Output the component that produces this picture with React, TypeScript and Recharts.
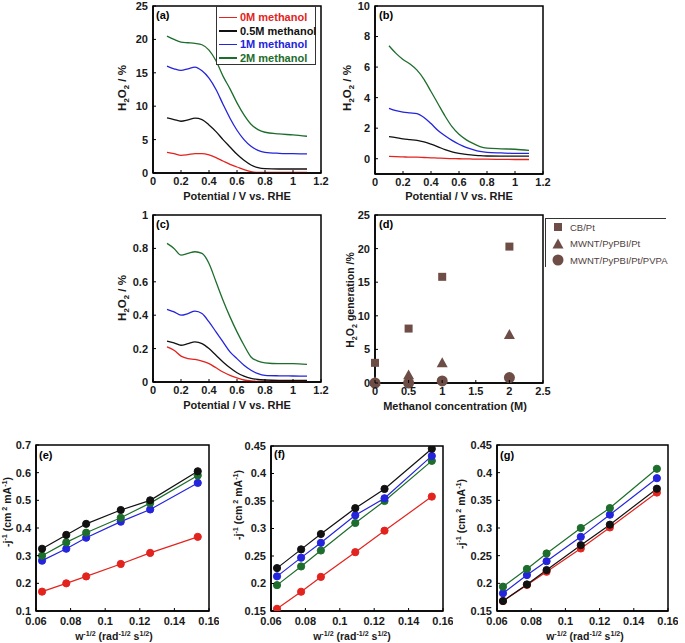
import React from 'react';
import { LineChart, Line, XAxis, YAxis, ReferenceArea, ScatterChart, Scatter } from 'recharts';

const FONT = '"Liberation Sans", Arial, sans-serif';
const RED = '#e3231e';
const BLACK = '#111111';
const BLUE = '#2424dc';
const GREEN = '#1d6d2c';
const BROWN = '#6e4d47';

// ---------- panels (a)-(c): H2O2 % vs potential ----------
const potential = [0.1, 0.15, 0.2, 0.25, 0.3, 0.35, 0.4, 0.45, 0.5, 0.55, 0.6, 0.65, 0.7, 0.75, 0.8, 0.9, 1.0, 1.1];
const methanolLabels = ['0M methanol', '0.5M methanol', '1M methanol', '2M methanol'];
const methanolColors = [RED, BLACK, BLUE, GREEN];

const aRed = [3.1, 2.9, 2.65, 2.75, 2.9, 2.9, 2.7, 2.3, 1.8, 1.3, 0.9, 0.5, 0.2, 0.1, 0.1, 0.1, 0.1, 0.1];
const aBlack = [8.25, 8.0, 7.75, 7.95, 8.2, 8.0, 7.2, 6.2, 5.0, 3.9, 2.8, 1.9, 1.2, 0.8, 0.65, 0.6, 0.6, 0.6];
const aBlue = [16.0, 15.6, 15.35, 15.6, 15.85, 15.3, 14.2, 12.5, 10.3, 8.2, 6.4, 5.0, 4.0, 3.4, 3.1, 2.95, 2.9, 2.85];
const aGreen = [20.5, 20.0, 19.6, 19.5, 19.4, 19.2, 18.4, 16.8, 14.5, 12.6, 10.5, 8.7, 7.3, 6.5, 6.1, 5.85, 5.7, 5.5];

const bRed = [0.15, 0.14, 0.12, 0.1, 0.1, 0.08, 0.06, 0.04, 0.02, 0.01, 0.0, -0.01, -0.02, -0.03, -0.03, -0.04, -0.05, -0.05];
const bBlack = [1.45, 1.38, 1.3, 1.25, 1.2, 1.1, 0.95, 0.78, 0.6, 0.45, 0.35, 0.28, 0.24, 0.2, 0.18, 0.17, 0.17, 0.17];
const bBlue = [3.3, 3.15, 3.05, 3.0, 2.95, 2.7, 2.3, 1.85, 1.5, 1.2, 0.95, 0.75, 0.6, 0.48, 0.42, 0.38, 0.35, 0.35];
const bGreen = [7.4, 6.9, 6.5, 6.2, 5.8, 5.2, 4.4, 3.6, 2.8, 2.1, 1.6, 1.25, 1.0, 0.8, 0.7, 0.65, 0.62, 0.55];

const cRed = [0.21, 0.19, 0.155, 0.14, 0.135, 0.125, 0.11, 0.085, 0.06, 0.04, 0.025, 0.012, 0.006, 0.004, 0.003, 0.003, 0.003, 0.003];
const cBlack = [0.245, 0.235, 0.22, 0.23, 0.24, 0.23, 0.2, 0.16, 0.12, 0.085, 0.055, 0.035, 0.022, 0.015, 0.012, 0.01, 0.01, 0.01];
const cBlue = [0.435, 0.42, 0.4, 0.41, 0.425, 0.41, 0.36, 0.3, 0.24, 0.18, 0.14, 0.1, 0.07, 0.05, 0.04, 0.037, 0.036, 0.035];
const cGreen = [0.83, 0.8, 0.76, 0.77, 0.78, 0.77, 0.71, 0.6, 0.49, 0.39, 0.3, 0.22, 0.15, 0.125, 0.115, 0.11, 0.11, 0.105];

const potentialTicks = [0, 0.2, 0.4, 0.6, 0.8, 1, 1.2];
const aTicks = [0, 5, 10, 15, 20, 25];
const bTicks = [0, 2, 4, 6, 8, 10];
const cTicks = [0, 0.2, 0.4, 0.6, 0.8, 1];

// ---------- panel (d) ----------
const dLabels = ['CB/Pt', 'MWNT/PyPBI/Pt', 'MWNT/PyPBI/Pt/PVPA'];
const dConc = [0, 0.5, 1, 2];
const dCBPt = [3.0, 8.1, 15.8, 20.3];
const dPyPBI = [0.2, 1.2, 3.0, 7.2];
const dPVPA = [0.0, 0.0, 0.3, 0.8];
const dXTicks = [0, 0.5, 1, 1.5, 2, 2.5];
const dYTicks = [0, 5, 10, 15, 20, 25];

// ---------- panels (e)-(g): Koutecky-Levich ----------
const wInv = [0.0635, 0.0775, 0.089, 0.109, 0.126, 0.1535];
const eRed = [0.17, 0.2, 0.225, 0.27, 0.31, 0.368];
const eBlack = [0.325, 0.375, 0.415, 0.465, 0.5, 0.605];
const eBlue = [0.282, 0.325, 0.365, 0.423, 0.467, 0.563];
const eGreen = [0.3, 0.348, 0.383, 0.437, 0.49, 0.59];

const fRed = [0.154, 0.185, 0.212, 0.257, 0.296, 0.358];
const fBlack = [0.228, 0.262, 0.29, 0.337, 0.372, 0.445];
const fBlue = [0.213, 0.247, 0.274, 0.324, 0.355, 0.432];
const fGreen = [0.197, 0.231, 0.26, 0.31, 0.35, 0.423];

const gRed = [0.168, 0.197, 0.221, 0.263, 0.301, 0.364];
const gBlack = [0.168, 0.198, 0.224, 0.269, 0.306, 0.371];
const gBlue = [0.182, 0.215, 0.24, 0.284, 0.324, 0.39];
const gGreen = [0.194, 0.226, 0.254, 0.3, 0.336, 0.407];

const klXTicks = [0.06, 0.08, 0.1, 0.12, 0.14, 0.16];
const eTicks = [0.1, 0.2, 0.3, 0.4, 0.5, 0.6, 0.7];
const fgTicks = [0.15, 0.2, 0.25, 0.3, 0.35, 0.4, 0.45];

const ML = 60, MT = 10, MR = 10, MB = 40;
const TMX = 4, TMY = 5;

type Box = { x: number; y: number; w: number; h: number };
type Series = { color: string; values: number[] };

const tickText = { fontSize: 11, fontWeight: 'bold' as const, fill: '#1a1a1a', fontFamily: FONT };
const axisLine = { stroke: '#000', strokeWidth: 1.5 };

function makeXTick(extra: number) {
  return function XTick(p: any) {
    const { x, y, payload } = p;
    const ay = y - TMX;
    return (
      <g>
        <line x1={x} x2={x} y1={ay} y2={ay - 3} stroke="#000" strokeWidth={1} />
        <text x={x} y={y + extra} dy="0.71em" textAnchor="middle" {...tickText}>{String(payload.value)}</text>
      </g>
    );
  };
}
const XTick = makeXTick(0);
const XTickLow = makeXTick(2.5);

function YTick(p: any) {
  const { x, y, payload } = p;
  const ax = x + TMY;
  return (
    <g>
      <line x1={ax} x2={ax + 3} y1={y} y2={y} stroke="#000" strokeWidth={1} />
      <text x={x} y={y} dy="0.355em" textAnchor="end" {...tickText}>{String(payload.value)}</text>
    </g>
  );
}

function LinePanel(props: {
  box: Box; xs: number[]; series: Series[]; xDomain: number[]; xTicks: number[];
  yDomain: number[]; yTicks: number[]; markers?: boolean; curve?: 'monotone' | 'linear';
}) {
  const { box, xs, series, xDomain, xTicks, yDomain, yTicks, markers, curve } = props;
  const data = xs.map((x, i) => {
    const row: Record<string, number> = { x };
    series.forEach((s, j) => { row['s' + j] = s.values[i]; });
    return row;
  });
  return (
    <div style={{ position: 'absolute', left: box.x - ML, top: box.y - MT }}>
      <LineChart width={box.w + ML + MR} height={box.h + MT + MB} data={data}
        margin={{ top: MT, right: MR, left: 0, bottom: 0 }}>
        <XAxis dataKey="x" type="number" domain={xDomain} ticks={xTicks} height={MB}
          allowDataOverflow interval={0} tick={markers ? XTickLow : XTick} tickSize={0} tickMargin={TMX}
          axisLine={axisLine} tickLine={false} />
        <YAxis type="number" domain={yDomain} ticks={yTicks} width={ML} allowDataOverflow
          interval={0} tick={YTick} tickSize={0} tickMargin={TMY}
          axisLine={axisLine} tickLine={false} />
        <ReferenceArea x1={xDomain[0]} x2={xDomain[1]} y1={yDomain[0]} y2={yDomain[1]}
          fill="none" stroke="#000" strokeWidth={1.5} fillOpacity={0} />
        {series.map((s, j) => (
          <Line key={j} dataKey={'s' + j} type={curve || 'monotone'} stroke={s.color}
            strokeWidth={markers ? 1.2 : 1.3} isAnimationActive={false}
            dot={markers ? { r: 3.6, fill: s.color, stroke: s.color, strokeWidth: 1 } : false}
            activeDot={false} />
        ))}
      </LineChart>
    </div>
  );
}

function Square(p: any) {
  return <rect x={p.cx - 4} y={p.cy - 4} width={8} height={8} fill={BROWN} />;
}
function Tri(p: any) {
  const s = 5.5;
  return <polygon points={`${p.cx},${p.cy - s} ${p.cx + s},${p.cy + s * 0.8} ${p.cx - s},${p.cy + s * 0.8}`} fill={BROWN} />;
}
function Circ(p: any) {
  return <circle cx={p.cx} cy={p.cy} r={5.5} fill={BROWN} />;
}

function ScatterPanel({ box }: { box: Box }) {
  const mk = (ys: number[]) => dConc.map((x, i) => ({ x, y: ys[i] }));
  return (
    <div style={{ position: 'absolute', left: box.x - ML, top: box.y - MT }}>
      <ScatterChart width={box.w + ML + MR} height={box.h + MT + MB}
        margin={{ top: MT, right: MR, left: 0, bottom: 0 }}>
        <XAxis dataKey="x" type="number" domain={[0, 2.5]} ticks={dXTicks} height={MB}
          interval={0} tick={XTick} tickSize={0} tickMargin={TMX}
          axisLine={axisLine} tickLine={false} />
        <YAxis dataKey="y" type="number" domain={[0, 25]} ticks={dYTicks} width={ML}
          interval={0} tick={YTick} tickSize={0} tickMargin={TMY}
          axisLine={axisLine} tickLine={false} />
        <ReferenceArea x1={0} x2={2.5} y1={0} y2={25} fill="none" stroke="#000" strokeWidth={1.5} fillOpacity={0} />
        <Scatter name={dLabels[0]} data={mk(dCBPt)} shape={Square} isAnimationActive={false} />
        <Scatter name={dLabels[1]} data={mk(dPyPBI)} shape={Tri} isAnimationActive={false} />
        <Scatter name={dLabels[2]} data={mk(dPVPA)} shape={Circ} isAnimationActive={false} />
      </ScatterChart>
    </div>
  );
}

type Part = [string, number];
function Rich({ x, y, parts, fs, rotate }: { x: number; y: number; parts: Part[]; fs: number; rotate?: boolean }) {
  let shift = 0;
  const spans = parts.map(([t, k], i) => {
    const target = k === 1 ? -fs * 0.38 : k === -1 ? fs * 0.3 : 0;
    const dy = target - shift;
    shift = target;
    return <tspan key={i} dy={dy} fontSize={k ? fs * 0.68 : fs}>{t}</tspan>;
  });
  return (
    <text x={x} y={y} textAnchor="middle" fontSize={fs} fontWeight="bold" fontFamily={FONT} fill="#1a1a1a"
      transform={rotate ? `rotate(-90 ${x} ${y})` : undefined}>{spans}</text>
  );
}

const A: Box = { x: 153, y: 6, w: 168, h: 167 };
const B: Box = { x: 375, y: 6, w: 168, h: 168 };
const C: Box = { x: 153, y: 215, w: 168, h: 167 };
const D: Box = { x: 375, y: 215, w: 168, h: 168 };
const E: Box = { x: 36, y: 445, w: 173, h: 166 };
const F: Box = { x: 271, y: 446, w: 172, h: 165 };
const G: Box = { x: 497, y: 445, w: 171, h: 166 };

const h2o2: Part[] = [['H', 0], ['2', -1], ['O', 0], ['2', -1], [' / %', 0]];
const h2o2gen: Part[] = [['H', 0], ['2', -1], ['O', 0], ['2', -1], [' generation /%', 0]];
const jLabel: Part[] = [['-j', 0], ['-1', 1], [' (cm', 0], [' 2', 1], [' mA', 0], ['-1', 1], [')', 0]];
const wLabel: Part[] = [['w', 0], ['-1/2', 1], [' (rad', 0], ['-1/2', 1], [' s', 0], ['1/2', 1], [')', 0]];

export default function App() {
  const ser = (vals: number[][], cols: string[] = methanolColors) => vals.map((v, i) => ({ color: cols[i], values: v }));
  return (
    <div style={{ position: 'absolute', left: 0, top: 0, width: 685, height: 643, background: '#fff', fontFamily: FONT }}>
      <LinePanel box={A} xs={potential} series={ser([aRed, aBlack, aBlue, aGreen])}
        xDomain={[0, 1.2]} xTicks={potentialTicks} yDomain={[0, 25]} yTicks={aTicks} />
      <LinePanel box={B} xs={potential} series={ser([bRed, bBlack, bBlue, bGreen])}
        xDomain={[0, 1.2]} xTicks={potentialTicks} yDomain={[-1, 10]} yTicks={bTicks} />
      <LinePanel box={C} xs={potential} series={ser([cRed, cBlack, cBlue, cGreen])}
        xDomain={[0, 1.2]} xTicks={potentialTicks} yDomain={[0, 1]} yTicks={cTicks} />
      <ScatterPanel box={D} />
      <LinePanel box={E} xs={wInv} series={ser([eRed, eBlue, eGreen, eBlack], [RED, BLUE, GREEN, BLACK])} markers curve="linear"
        xDomain={[0.06, 0.16]} xTicks={klXTicks} yDomain={[0.1, 0.7]} yTicks={eTicks} />
      <LinePanel box={F} xs={wInv} series={ser([fRed, fGreen, fBlue, fBlack], [RED, GREEN, BLUE, BLACK])} markers curve="linear"
        xDomain={[0.06, 0.16]} xTicks={klXTicks} yDomain={[0.15, 0.45]} yTicks={fgTicks} />
      <LinePanel box={G} xs={wInv} series={ser([gRed, gBlack, gBlue, gGreen])} markers curve="linear"
        xDomain={[0.06, 0.16]} xTicks={klXTicks} yDomain={[0.15, 0.45]} yTicks={fgTicks} />

      {/* legend (a) */}
      <div style={{ position: 'absolute', left: 216, top: 6, width: 100, height: 59, border: '1px solid #333', background: '#fff', boxSizing: 'border-box' }}>
        {methanolLabels.map((l, i) => (
          <div key={l} style={{ position: 'absolute', left: 2, top: 4 + i * 13.5, height: 13, display: 'flex', alignItems: 'center' }}>
            <div style={{ width: 18, height: 1.5, background: methanolColors[i], marginRight: 3 }} />
            <span style={{ color: methanolColors[i], fontSize: 11, fontWeight: 'bold', whiteSpace: 'nowrap', lineHeight: '13px' }}>{l}</span>
          </div>
        ))}
      </div>

      {/* legend (d) */}
      <div style={{ position: 'absolute', left: 545, top: 218, width: 120, height: 48, borderTop: '1px solid #333', borderLeft: '1px solid #333', background: '#fff' }}>
        {dLabels.map((l, i) => (
          <div key={l} style={{ position: 'absolute', left: 5, top: 1 + i * 16.5, height: 14, display: 'flex', alignItems: 'center' }}>
            <svg width={14} height={14} style={{ marginRight: 5 }}>
              {i === 0 && <rect x={3} y={3} width={8} height={8} fill={BROWN} />}
              {i === 1 && <polygon points="7,1.5 12.5,11.5 1.5,11.5" fill={BROWN} />}
              {i === 2 && <circle cx={7} cy={7} r={5.5} fill={BROWN} />}
            </svg>
            <span style={{ color: '#4f4040', fontSize: 9.5, whiteSpace: 'nowrap' }}>{l}</span>
          </div>
        ))}
      </div>

      <svg width={685} height={643} style={{ position: 'absolute', left: 0, top: 0, pointerEvents: 'none' }}>
        {/* panel letters */}
        <text x={156} y={19} fontSize={11} fontWeight="bold" fontFamily={FONT}>(a)</text>
        <text x={379} y={19} fontSize={11} fontWeight="bold" fontFamily={FONT}>(b)</text>
        <text x={156} y={228} fontSize={11} fontWeight="bold" fontFamily={FONT}>(c)</text>
        <text x={379} y={228} fontSize={11} fontWeight="bold" fontFamily={FONT}>(d)</text>
        <text x={39} y={459} fontSize={11} fontWeight="bold" fontFamily={FONT}>(e)</text>
        <text x={274} y={458} fontSize={11} fontWeight="bold" fontFamily={FONT}>(f)</text>
        <text x={500} y={459} fontSize={11} fontWeight="bold" fontFamily={FONT}>(g)</text>

        {/* x titles */}
        <Rich x={237} y={200} fs={11} parts={[['Potential / V vs. RHE', 0]]} />
        <Rich x={459} y={200} fs={11} parts={[['Potential / V vs. RHE', 0]]} />
        <Rich x={237} y={409} fs={11} parts={[['Potential / V vs. RHE', 0]]} />
        <Rich x={455} y={410} fs={11} parts={[['Methanol concentration (M)', 0]]} />
        <Rich x={114} y={640} fs={10.5} parts={wLabel} />
        <Rich x={352} y={640} fs={10.5} parts={wLabel} />
        <Rich x={585} y={640} fs={10.5} parts={wLabel} />

        {/* y titles */}
        <Rich x={126} y={88} fs={11.5} parts={h2o2} rotate />
        <Rich x={351} y={88} fs={11.5} parts={h2o2} rotate />
        <Rich x={126} y={298} fs={11.5} parts={h2o2} rotate />
        <Rich x={354} y={300} fs={10.5} parts={h2o2gen} rotate />
        <Rich x={11} y={512} fs={10.5} parts={jLabel} rotate />
        <Rich x={242} y={505} fs={10.5} parts={jLabel} rotate />
        <Rich x={465} y={514} fs={10.5} parts={jLabel} rotate />
      </svg>
    </div>
  );
}
